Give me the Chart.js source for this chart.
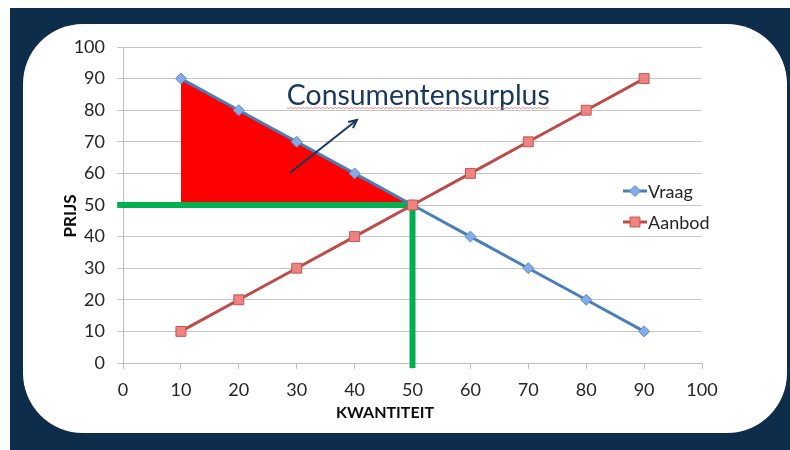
<!DOCTYPE html>
<html><head><meta charset="utf-8">
<script src="https://cdn.jsdelivr.net/npm/chart.js@4/dist/chart.umd.min.js"></script>
<style>html,body{margin:0;padding:0;background:#fff;}#wrap{width:790px;height:450px;}</style>
</head><body><div id="wrap"><canvas id="c" width="790" height="450"></canvas></div>
<script>
// ---- data ----
const quantities = [10, 20, 30, 40, 50, 60, 70, 80, 90];
const vraag      = [90, 80, 70, 60, 50, 40, 30, 20, 10];
const aanbod     = [10, 20, 30, 40, 50, 60, 70, 80, 90];
const seriesNames = ['Vraag', 'Aanbod'];
const xTicks = [0, 10, 20, 30, 40, 50, 60, 70, 80, 90, 100];
const yTicks = [0, 10, 20, 30, 40, 50, 60, 70, 80, 90, 100];
const xTitle = 'KWANTITEIT';
const yTitle = 'PRIJS';
// consumer surplus triangle (between demand curve and equilibrium price)
const surplusQ = [10, 50];
const surplusP = [90, 50];
const equilibriumPrice = 50;
// green equilibrium guide lines
const guideHQ = [-1, 50.5];
const guideHP = [50, 50];
const guideVQ = [50, 50];
const guideVP = [51, -1.6];
// annotation
const annotationText = 'Consumentensurplus';
const annotationPos = {x: 28.3, y: 81.6};
const arrowFrom = {x: 28.8, y: 60.1};
const arrowTo = {x: 40.4, y: 76.9};

const pts = (xs, ys) => xs.map((x, i) => ({x: x, y: ys[i]}));

const FONT = 'Lato, "Open Sans", sans-serif';
const TXT = '#262626';
const NAVY = '#0e2d4a';

const frame = {
  id: 'frame',
  beforeDraw(chart) {
    const ctx = chart.ctx;
    ctx.save();
    ctx.fillStyle = '#ffffff';
    ctx.fillRect(0, 0, 790, 450);
    ctx.fillStyle = NAVY;
    ctx.fillRect(10, 8, 780, 442);
    ctx.fillStyle = '#ffffff';
    ctx.beginPath();
    ctx.roundRect(23, 24, 764, 409, 60);
    ctx.fill();
    ctx.restore();
  }
};

const extras = {
  id: 'extras',
  afterDraw(chart) {
    const ctx = chart.ctx;
    const xs = chart.scales.x, ys = chart.scales.y;
    ctx.save();
    // axis titles
    ctx.fillStyle = '#0d0d0d';
    ctx.font = 'bold 16px ' + FONT;
    ctx.textAlign = 'center';
    ctx.textBaseline = 'middle';
    ctx.fillText(xTitle, 385, 413);
    ctx.save();
    ctx.translate(71, 216);
    ctx.rotate(-Math.PI / 2);
    ctx.font = 'bold 17px ' + FONT;
    ctx.fillText(yTitle, 0, 0);
    ctx.restore();

    // annotation text
    let size = 26;
    ctx.font = size + 'px ' + FONT;
    const w = ctx.measureText(annotationText).width;
    size = Math.max(22, Math.min(30, size * 263 / w));
    ctx.font = size + 'px ' + FONT;
    ctx.fillStyle = '#17375e';
    ctx.textAlign = 'left';
    ctx.textBaseline = 'alphabetic';
    const tx = xs.getPixelForValue(annotationPos.x), ty = ys.getPixelForValue(annotationPos.y);
    ctx.fillText(annotationText, tx, ty);
    const tw = ctx.measureText(annotationText).width;
    // spell-check wavy underline
    ctx.strokeStyle = '#f08a8a';
    ctx.lineWidth = 1;
    ctx.beginPath();
    for (let px = 0; px <= tw; px += 2) {
      const yy = ty + 2.5 + ((px / 2) % 2 ? 1 : -0.2);
      if (px === 0) ctx.moveTo(tx + px, yy); else ctx.lineTo(tx + px, yy);
    }
    ctx.stroke();

    // arrow
    const ax0 = xs.getPixelForValue(arrowFrom.x), ay0 = ys.getPixelForValue(arrowFrom.y);
    const ax1 = xs.getPixelForValue(arrowTo.x), ay1 = ys.getPixelForValue(arrowTo.y);
    ctx.strokeStyle = '#17375e';
    ctx.lineWidth = 2;
    ctx.beginPath();
    ctx.moveTo(ax0, ay0);
    ctx.lineTo(ax1, ay1);
    ctx.stroke();
    const ang = Math.atan2(ay1 - ay0, ax1 - ax0);
    const hl = 9;
    ctx.beginPath();
    ctx.moveTo(ax1 - hl * Math.cos(ang - 0.45), ay1 - hl * Math.sin(ang - 0.45));
    ctx.lineTo(ax1, ay1);
    ctx.lineTo(ax1 - hl * Math.cos(ang + 0.45), ay1 - hl * Math.sin(ang + 0.45));
    ctx.stroke();

    // legend
    const items = [chart.data.datasets[1], chart.data.datasets[0]];
    const ly = [191, 222];
    items.forEach((ds, i) => {
      const y = ly[i];
      ctx.strokeStyle = ds.borderColor;
      ctx.lineWidth = 3;
      ctx.beginPath();
      ctx.moveTo(623, y);
      ctx.lineTo(647, y);
      ctx.stroke();
      ctx.fillStyle = ds.pointBackgroundColor;
      ctx.strokeStyle = ds.pointBorderColor;
      ctx.lineWidth = 1;
      Chart.helpers.drawPoint(ctx, {pointStyle: ds.pointStyle, radius: ds.pointRadius, borderWidth: 1, rotation: 0}, 635, y);
      ctx.fillStyle = TXT;
      ctx.font = '18px ' + FONT;
      ctx.textAlign = 'left';
      ctx.textBaseline = 'middle';
      ctx.fillText(ds.label, 648, y + 1);
    });
    ctx.restore();
  }
};

new Chart(document.getElementById('c'), {
  type: 'line',
  data: {
    datasets: [
      {
        label: seriesNames[1], data: pts(quantities, aanbod), order: 1,
        borderColor: '#be4b48', borderWidth: 3, tension: 0,
        pointStyle: 'rect', pointRadius: 7, pointBackgroundColor: '#ee8482',
        pointBorderColor: '#c65451', pointBorderWidth: 1, fill: false
      },
      {
        label: seriesNames[0], data: pts(quantities, vraag), order: 2,
        borderColor: '#4a7ebb', borderWidth: 3, tension: 0,
        pointStyle: 'rectRot', pointRadius: 5.5, pointBackgroundColor: '#84abe3',
        pointBorderColor: '#5f8fd3', pointBorderWidth: 1, fill: false
      },
      {
        label: 'h', data: pts(guideHQ, guideHP), order: 3,
        borderColor: '#00b050', borderWidth: 6, pointRadius: 0, clip: false,
        borderCapStyle: 'butt', fill: false
      },
      {
        label: 'v', data: pts(guideVQ, guideVP), order: 4,
        borderColor: '#00b050', borderWidth: 6, pointRadius: 0, clip: false,
        borderCapStyle: 'butt', fill: false
      },
      {
        label: 's', data: pts(surplusQ, surplusP), order: 5,
        borderColor: 'rgba(0,0,0,0)', borderWidth: 0, pointRadius: 0,
        backgroundColor: '#ff0000', fill: {value: equilibriumPrice}
      }
    ]
  },
  options: {
    responsive: false,
    animation: false,
    devicePixelRatio: 1,
    layout: {padding: {left: 0, top: 47, right: 88, bottom: 0}},
    plugins: {legend: {display: false}, tooltip: {enabled: false}},
    scales: {
      x: {
        type: 'linear', min: 0, max: 100,
        afterBuildTicks: s => { s.ticks = xTicks.map(v => ({value: v})); },
        afterFit: s => { s.height = 87; },
        ticks: {font: {family: FONT, size: 18}, color: TXT, padding: 10, maxRotation: 0},
        grid: {drawOnChartArea: false, drawTicks: true, tickLength: 6, color: '#bfbfbf'},
        border: {color: '#bfbfbf'}
      },
      y: {
        type: 'linear', min: 0, max: 100,
        afterBuildTicks: s => { s.ticks = yTicks.map(v => ({value: v})); },
        afterFit: s => { s.width = 123; },
        ticks: {font: {family: FONT, size: 18}, color: TXT, padding: 12},
        grid: {color: '#c6c6c6', tickLength: 6},
        border: {color: '#bfbfbf'}
      }
    }
  },
  plugins: [frame, extras]
});
</script>
</body></html>
